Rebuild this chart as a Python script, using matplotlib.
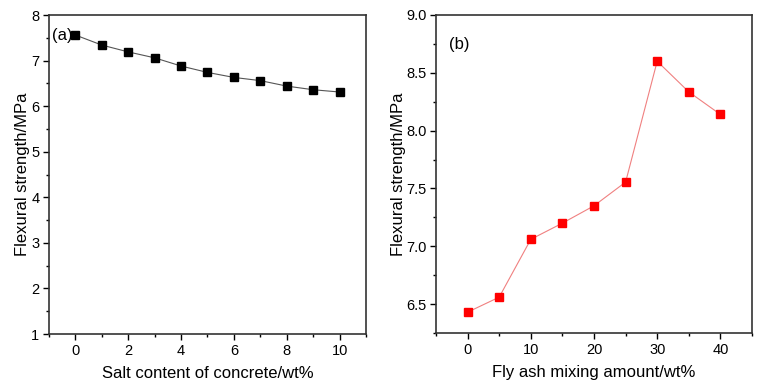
import matplotlib
matplotlib.use("Agg")
import matplotlib.pyplot as plt
from matplotlib.ticker import MultipleLocator

plt.rcParams['font.family'] = ['Liberation Sans', 'DejaVu Sans']

salt = [0, 1, 2, 3, 4, 5, 6, 7, 8, 9, 10]
strength_a = [7.56, 7.34, 7.19, 7.06, 6.88, 6.74, 6.63, 6.56, 6.44, 6.36, 6.31]
flyash = [0, 5, 10, 15, 20, 25, 30, 35, 40]
strength_b = [6.43, 6.56, 7.06, 7.20, 7.35, 7.555, 8.60, 8.335, 8.14]

fig = plt.figure(figsize=(7.64, 3.88), dpi=100)
ax1 = fig.add_axes([49/764, 1-334/388, (366-49)/764, (334-15)/388])
ax2 = fig.add_axes([436/764, 1-333/388, (752-436)/764, (333-15)/388])

ax1.plot(salt, strength_a, color='#555555', lw=0.8, marker='s', ms=6,
         mfc='black', mec='black')
ax1.set_xlim(-1, 11)
ax1.set_ylim(1, 8)
ax1.xaxis.set_major_locator(MultipleLocator(2))
ax1.xaxis.set_minor_locator(MultipleLocator(1))
ax1.yaxis.set_major_locator(MultipleLocator(1))
ax1.yaxis.set_minor_locator(MultipleLocator(0.5))
ax1.set_xlabel('Salt content of concrete/wt%', fontsize=12, labelpad=6)
ax1.set_ylabel('Flexural strength/MPa', fontsize=12, labelpad=1)
ax1.text(0.01, 0.96, '(a)', transform=ax1.transAxes, fontsize=12, va='top', ha='left')

ax2.plot(flyash, strength_b, color='#f08080', lw=0.8, marker='s', ms=6,
         mfc='red', mec='red')
ax2.set_xlim(-5, 45)
ax2.set_ylim(6.25, 9.0)
ax2.xaxis.set_major_locator(MultipleLocator(10))
ax2.xaxis.set_minor_locator(MultipleLocator(5))
ax2.yaxis.set_major_locator(MultipleLocator(0.5))
ax2.yaxis.set_minor_locator(MultipleLocator(0.25))
ax2.set_xlabel('Fly ash mixing amount/wt%', fontsize=12, labelpad=6)
ax2.set_ylabel('Flexural strength/MPa', fontsize=12, labelpad=0)
ax2.text(0.04, 0.93, '(b)', transform=ax2.transAxes, fontsize=12, va='top', ha='left')

for ax in (ax1, ax2):
    ax.tick_params(which='major', direction='out', length=4, width=1, labelsize=10.5, pad=3)
    ax.tick_params(which='minor', direction='out', length=2.5, width=1)
    for s in ax.spines.values():
        s.set_linewidth(1.2)
        s.set_color('#333333')

fig.savefig('out.png', dpi=100)
